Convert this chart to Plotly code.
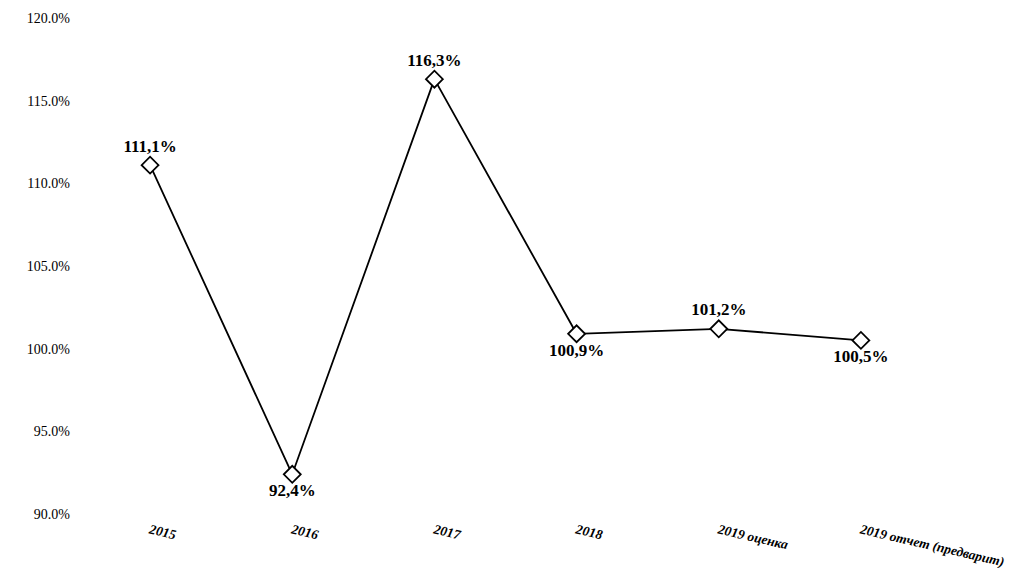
import plotly.graph_objects as go

categories = ["2015", "2016", "2017", "2018", "2019 оценка", "2019 отчет (предварит)"]
values = [111.1, 92.4, 116.3, 100.9, 101.2, 100.5]
labels = ["111,1%", "92,4%", "116,3%", "100,9%", "101,2%", "100,5%"]
label_pos = ["top center", "bottom center", "top center", "bottom center", "top center", "bottom center"]
y_ticks = [90, 95, 100, 105, 110, 115, 120]
y_tick_text = ["90.0%", "95.0%", "100.0%", "105.0%", "110.0%", "115.0%", "120.0%"]

fig = go.Figure()
fig.add_trace(go.Scatter(
    x=categories, y=values,
    mode="lines+markers+text",
    line=dict(color="black", width=1.8),
    marker=dict(symbol="diamond", size=13, color="white", line=dict(color="black", width=1.8)),
    text=["<b>" + t + "</b>" for t in labels], textposition=label_pos,
    textfont=dict(family="Liberation Serif", size=17, color="black"),
    cliponaxis=False,
    showlegend=False,
))

fig.update_layout(
    width=1016, height=580,
    margin=dict(l=71, r=92, t=10, b=74),
    plot_bgcolor="white", paper_bgcolor="white",
    font=dict(family="Liberation Serif", color="black"),
)
fig.update_xaxes(
    type="category", range=[-0.5, 5.5],
    showgrid=False, showline=False, zeroline=False,
    tickangle=13, automargin=False,
    tickvals=categories, ticktext=["<b><i>" + c + "</i></b>" for c in categories],
    tickfont=dict(family="Liberation Serif", size=13.5, color="black"),
    ticks="", ticklabelstandoff=5,
)
fig.update_yaxes(
    range=[90, 120], tickvals=y_ticks, ticktext=y_tick_text,
    showgrid=False, showline=False, zeroline=False, automargin=False,
    tickfont=dict(family="Liberation Serif", size=14, color="black"),
    ticks="", ticklabelstandoff=8,
)

fig.write_html("out.html")
